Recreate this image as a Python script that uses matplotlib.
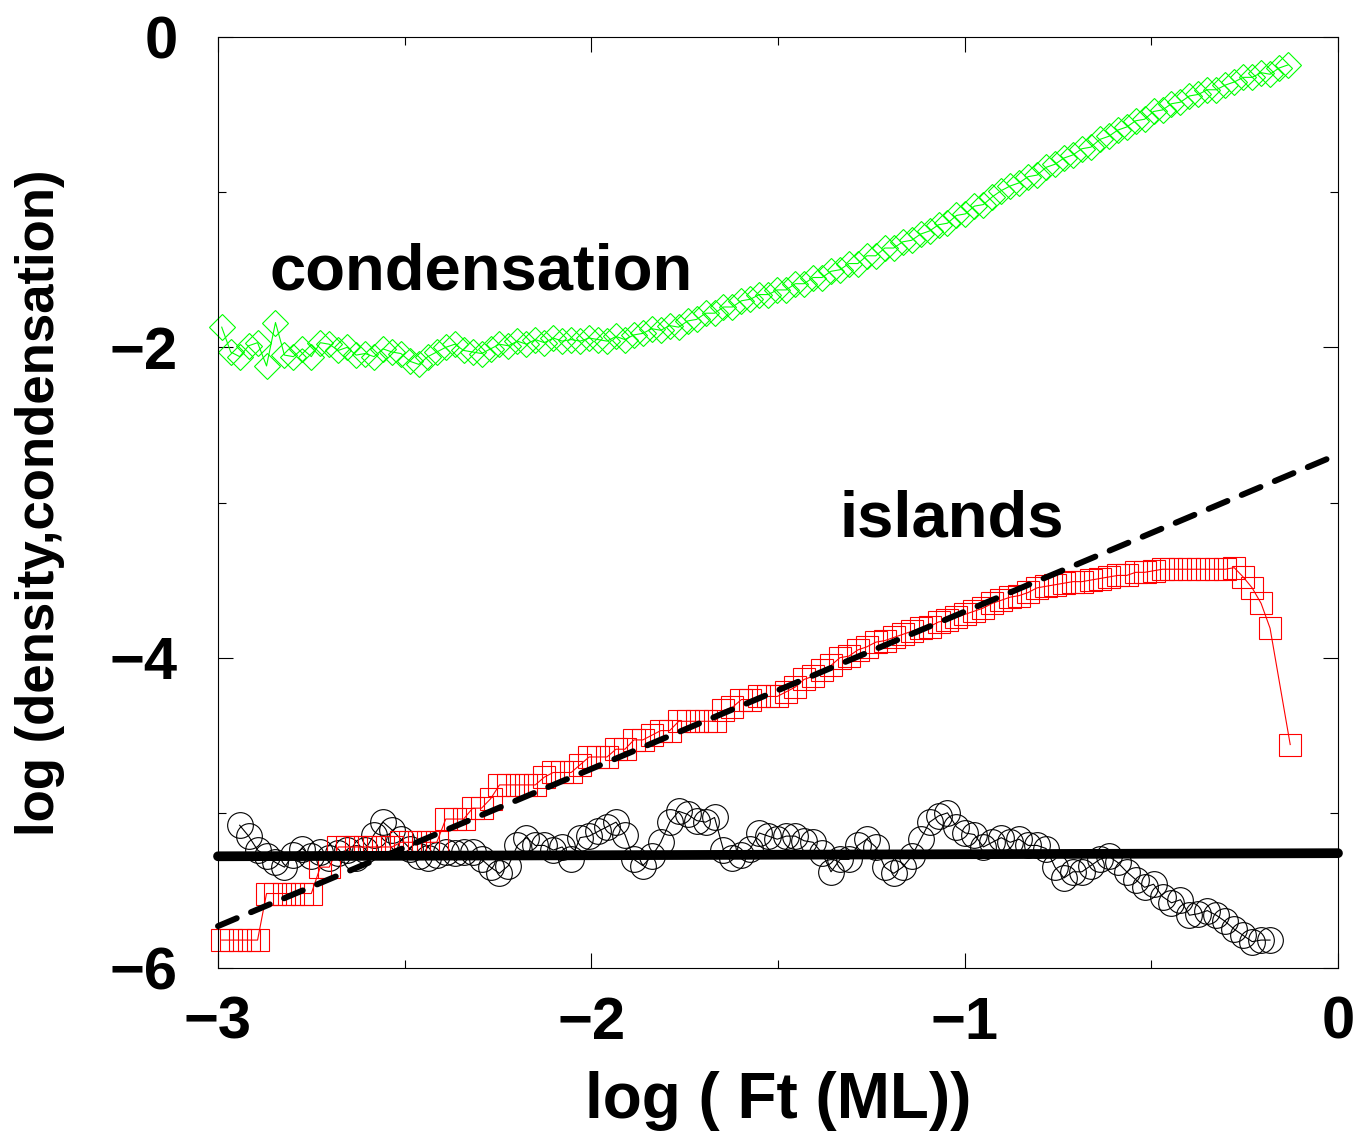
import matplotlib.pyplot as plt
import numpy as np

plt.rcParams['font.family'] = ['Liberation Sans', 'DejaVu Sans']
plt.rcParams['font.weight'] = 'bold'

# log(Ft) sampling grid, evenly spaced in log time
log_ft = np.round(np.linspace(-2.99, -0.134, 120), 3)

# islands density (red squares)
isl_y = [
    -5.82, -5.82, -5.82, -5.82, -5.82,
    -5.52, -5.52, -5.52, -5.52, -5.52, -5.52,
    -5.35, -5.35,
    -5.22, -5.22, -5.22, -5.22, -5.22, -5.22, -5.22,
    -5.19, -5.19, -5.19, -5.19, -5.19,
    -5.04, -5.04, -5.04,
    -4.97, -4.97,
    -4.91,
    -4.82, -4.82, -4.82, -4.82, -4.82,
    -4.77,
    -4.74, -4.74, -4.74,
    -4.69,
    -4.64, -4.64, -4.64,
    -4.59, -4.59,
    -4.53, -4.53,
    -4.50,
    -4.47, -4.47,
    -4.41, -4.41, -4.41, -4.41, -4.41,
    -4.34, -4.32,
    -4.27, -4.27,
    -4.25, -4.25, -4.25,
    -4.22, -4.19, -4.14, -4.12, -4.08, -4.05, -4.00, -3.99,
    -3.95, -3.93, -3.90, -3.89, -3.87, -3.85, -3.83, -3.81, -3.80, -3.77,
    -3.76, -3.74, -3.72, -3.70, -3.68, -3.65, -3.63, -3.61, -3.60, -3.58,
    -3.55, -3.54, -3.53, -3.52, -3.51, -3.51, -3.50, -3.49, -3.48, -3.47,
    -3.47, -3.45, -3.45, -3.44, -3.43, -3.43, -3.43, -3.43, -3.43, -3.43,
    -3.43, -3.43, -3.42, -3.48, -3.55, -3.65, -3.81,
    -4.56,
]
isl_x = list(log_ft[:118]) + [-0.128]

# condensation (green diamonds)
cond_y = [
    -1.87, -2.03, -2.06, -1.99, -1.97, -2.12, -1.84, -2.05, -2.06, -2.01,
    -2.06, -1.97, -1.98, -2.02, -2.00, -2.05, -2.04, -2.06, -2.01, -2.03,
    -2.04, -2.09, -2.11, -2.06, -2.03, -2.00, -1.98, -2.02, -2.03, -2.04,
    -2.01, -1.98, -1.99, -1.96, -1.98, -1.95, -1.97, -1.94, -1.96, -1.95,
    -1.96, -1.94, -1.95, -1.96, -1.93, -1.95, -1.92, -1.91, -1.88, -1.89,
    -1.86, -1.87, -1.83, -1.82, -1.78, -1.78, -1.74, -1.74, -1.70, -1.69,
    -1.66, -1.66, -1.63, -1.63, -1.59, -1.59, -1.55, -1.55, -1.51, -1.50,
    -1.46, -1.46, -1.41, -1.41, -1.36, -1.36, -1.32, -1.31, -1.27, -1.25,
    -1.21, -1.20, -1.15, -1.14, -1.09, -1.08, -1.03, -0.99, -0.96, -0.94,
    -0.90, -0.89, -0.84, -0.82, -0.78, -0.76, -0.72, -0.71, -0.66, -0.64,
    -0.60, -0.58, -0.54, -0.53, -0.48, -0.47, -0.43, -0.42, -0.38, -0.37,
    -0.34, -0.34, -0.31, -0.29, -0.26, -0.26, -0.23, -0.24, -0.20, -0.18,
]
cond_x = log_ft

# circles (black)
circ_y = [
    -5.08, -5.15, -5.24, -5.28, -5.32, -5.35, -5.27, -5.23, -5.28, -5.25,
    -5.29, -5.26, -5.24, -5.29, -5.24, -5.14, -5.06, -5.11, -5.17, -5.23,
    -5.28, -5.29, -5.27, -5.25, -5.26, -5.25, -5.25, -5.30, -5.35, -5.39,
    -5.34, -5.21, -5.16, -5.21, -5.21, -5.24, -5.22, -5.30, -5.16, -5.15,
    -5.12, -5.09, -5.06, -5.14, -5.30, -5.34, -5.28, -5.19, -5.06, -4.99,
    -5.01, -5.05, -5.06, -5.03, -5.24, -5.29, -5.27, -5.23, -5.13, -5.15,
    -5.17, -5.15, -5.15, -5.18, -5.19, -5.26, -5.38, -5.30, -5.30, -5.21,
    -5.17, -5.22, -5.35, -5.39, -5.35, -5.28, -5.17, -5.06, -5.02, -5.00,
    -5.09, -5.13, -5.14, -5.22, -5.19, -5.16, -5.19, -5.17, -5.21, -5.21,
    -5.23, -5.35, -5.42, -5.38, -5.38, -5.34, -5.30, -5.28, -5.32, -5.38,
    -5.43, -5.48, -5.46, -5.54, -5.58, -5.56, -5.66, -5.65, -5.63, -5.66,
    -5.70, -5.75, -5.79, -5.83, -5.82, -5.82,
]
circ_x = log_ft[2:118]

# reference lines
flat_x = [-3.0, 0.0]
flat_y = [-5.28, -5.26]
fit_x = [-3.0, 0.0]
fit_y = [-5.73, -2.69]

fig = plt.figure(figsize=(13.55, 11.34), dpi=100)
ax = fig.add_axes([218 / 1355, 1 - 968 / 1134, 1120 / 1355, 931 / 1134])

ax.plot(circ_x, circ_y, '-', color='black', lw=0.8, marker='o', ms=18.5,
        mfc='none', mec='black', mew=0.8, clip_on=False)
ax.plot(isl_x, isl_y, '-', color='red', lw=0.8, marker='s', ms=16.5,
        mfc='none', mec='red', mew=0.8, clip_on=False)
ax.plot(cond_x, cond_y, '-', color='#00ff00', lw=0.8, marker='D', ms=13,
        mfc='none', mec='#00ff00', mew=0.8, clip_on=False)
ax.plot(flat_x, flat_y, '-', color='black', lw=7, solid_capstyle='round',
        clip_on=False)
ax.plot(fit_x, fit_y, color='black', lw=4.3, dashes=(3.4, 2.6),
        dash_capstyle='round', clip_on=False)

ax.text(-2.861, -1.63, 'condensation', fontsize=47, fontweight='bold')
ax.text(-1.334, -3.22, 'islands', fontsize=47, fontweight='bold')

ax.set_xlim(-3, 0)
ax.set_ylim(-6, 0)
ax.set_xticks([-3, -2, -1, 0])
ax.set_xticks([-2.5, -1.5, -0.5], minor=True)
ax.set_yticks([-6, -4, -2, 0])
ax.set_yticks([-5, -3, -1], minor=True)
ax.tick_params(which='both', direction='in', top=True, right=True, width=0.8)
ax.tick_params(which='major', length=11)
ax.tick_params(which='minor', length=6)
ax.tick_params(axis='x', which='major', labelsize=43, pad=20)
ax.tick_params(axis='y', which='major', labelsize=43, pad=29)
for s in ax.spines.values():
    s.set_linewidth(0.8)

ax.set_xlabel('log ( Ft (ML))', fontsize=46, fontweight='bold', va='center')
ax.xaxis.set_label_coords(0.5, -0.143)
ax.set_ylabel('log (density,condensation)', fontsize=38, fontweight='bold',
              va='center')
ax.yaxis.set_label_coords(-0.159, 0.5)

fig.savefig('out.png', dpi=100)
